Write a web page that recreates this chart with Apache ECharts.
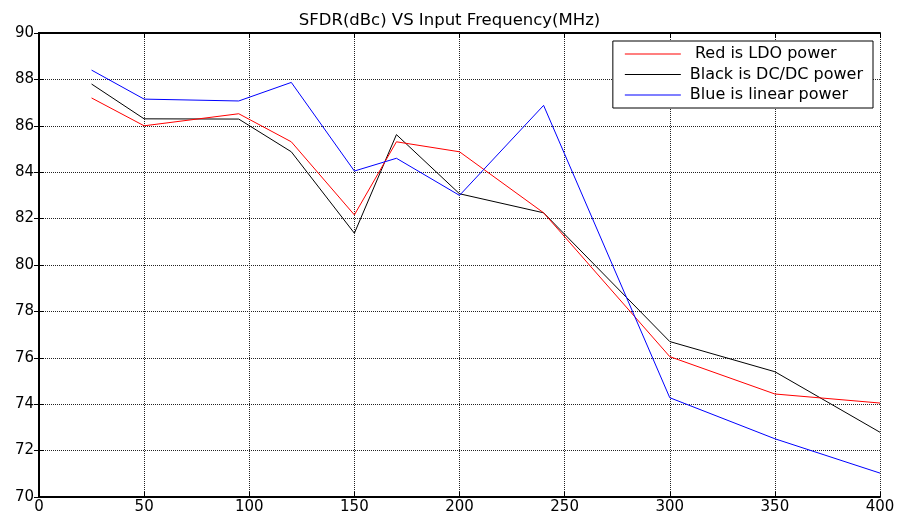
<!DOCTYPE html>
<html><head><meta charset="utf-8">
<script src="https://cdn.jsdelivr.net/npm/echarts@6/dist/echarts.min.js"></script>
<style>html,body{margin:0;padding:0;background:#fff}#c{width:899px;height:518px}</style>
</head><body><div id="c"></div>
<script>
const freqs = [25, 50, 95, 120, 150, 170, 200, 240, 300, 350, 400];
const redLDO = [87.2, 86.0, 86.52, 85.31, 82.16, 85.31, 84.88, 82.25, 76.05, 74.44, 74.05];
const blackDCDC = [87.8, 86.3, 86.29, 84.88, 81.37, 85.62, 83.07, 82.25, 76.7, 75.4, 72.79];
const blueLinear = [88.4, 87.15, 87.07, 87.87, 84.05, 84.6, 83.0, 86.88, 74.28, 72.51, 71.03];
const seriesNames = [' Red is LDO power', 'Black is DC/DC power', 'Blue is linear power'];
const titleText = 'SFDR(dBc) VS Input Frequency(MHz)';

const font = 'DejaVu Sans, sans-serif';
const pair = (ys) => freqs.map((x, i) => [x, ys[i]]);
const chart = echarts.init(document.getElementById('c'), null, {renderer: 'canvas'});
const gridLine = {show: true, lineStyle: {color: '#222', type: [1, 1], width: 1}};
chart.setOption({
  animation: false,
  backgroundColor: '#fff',
  title: {text: titleText, left: 'center', top: 7,
    textStyle: {fontFamily: font, fontSize: 16.5, fontWeight: 'normal', color: '#000'}},
  grid: {left: 39, right: 19, top: 33, bottom: 21, show: false},
  legend: {
    orient: 'vertical', right: 26, top: 41,
    backgroundColor: '#fff', borderColor: '#000', borderWidth: 1,
    padding: [5, 10, 5, 12], itemGap: 4.5, itemWidth: 56, itemHeight: 16,
    icon: 'path://M0,8L56,8L56,9L0,9Z',
    textStyle: {fontFamily: font, fontSize: 16, lineHeight: 16, color: '#000', padding: [0, 0, 0, 4]},
    data: seriesNames
  },
  xAxis: [
    {type: 'value', min: 0, max: 400, interval: 50, position: 'bottom',
     axisLine: {show: true, onZero: false, lineStyle: {color: '#000', width: 2}},
     axisTick: {show: true, inside: true, length: 5, lineStyle: {color: '#000'}},
     axisLabel: {fontFamily: font, fontSize: 15, color: '#000', margin: 3},
     splitLine: gridLine},
    {type: 'value', min: 0, max: 400, interval: 50, position: 'top',
     axisLine: {show: true, lineStyle: {color: '#000', width: 2}},
     axisTick: {show: true, inside: true, length: 5, lineStyle: {color: '#000'}},
     axisLabel: {show: false}, splitLine: {show: false}}
  ],
  yAxis: [
    {type: 'value', min: 70, max: 90, interval: 2, position: 'left',
     axisLine: {show: true, onZero: false, lineStyle: {color: '#000', width: 2}},
     axisTick: {show: true, inside: true, length: 5, lineStyle: {color: '#000'}},
     axisLabel: {fontFamily: font, fontSize: 15, color: '#000', margin: 5},
     splitLine: gridLine},
    {type: 'value', min: 70, max: 90, interval: 2, position: 'right',
     axisLine: {show: true, lineStyle: {color: '#000', width: 2}},
     axisTick: {show: true, inside: true, length: 5, lineStyle: {color: '#000'}},
     axisLabel: {show: false}, splitLine: {show: false}}
  ],
  series: [
    {name: seriesNames[0], type: 'line', data: pair(redLDO), showSymbol: false, symbol: 'none',
     lineStyle: {color: '#ff0000', width: 1}, itemStyle: {color: '#ff0000'}, z: 3},
    {name: seriesNames[1], type: 'line', data: pair(blackDCDC), showSymbol: false, symbol: 'none',
     lineStyle: {color: '#000000', width: 1}, itemStyle: {color: '#000000'}, z: 2},
    {name: seriesNames[2], type: 'line', data: pair(blueLinear), showSymbol: false, symbol: 'none',
     lineStyle: {color: '#0000ff', width: 1}, itemStyle: {color: '#0000ff'}, z: 4}
  ]
});
</script></body></html>
